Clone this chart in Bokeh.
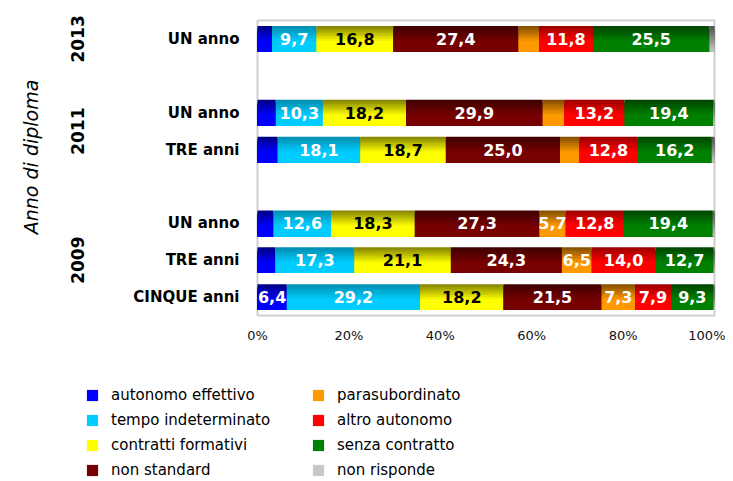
import math
from bokeh.plotting import figure
from bokeh.layouts import column
from bokeh.models import (ColumnDataSource, Range1d, FixedTicker,
                          PrintfTickFormatter, Legend, LegendItem)
from bokeh.core.properties import value
from bokeh.embed import file_html
from bokeh.resources import INLINE

# ---------------- data (rows listed top to bottom) ----------------
years = ["2013", "2011", "2011", "2009", "2009", "2009"]
durations = ["UN anno", "UN anno", "TRE anni", "UN anno", "TRE anni", "CINQUE anni"]
axis_title = "Anno di diploma"

series_names = ["autonomo effettivo", "tempo indeterminato", "contratti formativi",
                "non standard", "parasubordinato", "altro autonomo",
                "senza contratto", "non risponde"]

autonomo_effettivo = [3.2, 4.0, 4.4, 3.5, 3.9, 6.4]
tempo_indeterminato = [9.7, 10.3, 18.1, 12.6, 17.3, 29.2]
contratti_formativi = [16.8, 18.2, 18.7, 18.3, 21.1, 18.2]
non_standard = [27.4, 29.9, 25.0, 27.3, 24.3, 21.5]
parasubordinato = [4.5, 4.7, 4.2, 5.7, 6.5, 7.3]
altro_autonomo = [11.8, 13.2, 12.8, 12.8, 14.0, 7.9]
senza_contratto = [25.5, 19.4, 16.2, 19.4, 12.7, 9.3]
non_risponde = [1.1, 0.3, 0.6, 0.4, 0.2, 0.2]

x_ticks = [0, 20, 40, 60, 80, 100]

# ---------------- styles / layout constants ----------------
base_colors = ["#0000FF", "#00CCFF", "#FFFF00", "#770000",
               "#FF9900", "#FF0000", "#008000", "#C8C8C8"]
top_colors = ["#000080", "#008BAD", "#807F00", "#3D0000",
              "#7F4C00", "#990000", "#004400", "#505050"]
label_colors = ["white", "white", "black", "white",
                "white", "white", "white", "white"]
FONT = "DejaVu Sans"
GROUP_PAD = 1.0
W = 725
PLOT_LEFT_PX = 257      # pixel of 0 %
PLOT_RIGHT_PX = 714     # pixel of 100 %
BORDER_RIGHT = 9
TOP_PX = 20
BOTTOM_PX = 315
H1 = 345
H2 = 134
EDGE_PAD_PX = 2

all_series = [autonomo_effettivo, tempo_indeterminato, contratti_formativi,
              non_standard, parasubordinato, altro_autonomo, senza_contratto,
              non_risponde]
n_rows = len(years)

# row slots (bottom-up, one empty slot between year groups)
row_pos = [0.0] * n_rows
group_members = {}
pos = 0.0
prev = None
for r in reversed(range(n_rows)):
    g = years[r]
    if prev is not None and g != prev:
        pos += GROUP_PAD
    row_pos[r] = pos + 0.5
    group_members.setdefault(g, []).append(pos + 0.5)
    pos += 1.0
    prev = g
total_extent = pos
group_names = list(group_members.keys())
group_pos = [sum(c) / len(c) for c in group_members.values()]

# ranges: frame spans the whole width/top so side labels are drawn inside it
x0, x1 = x_ticks[0], x_ticks[-1]
px_per_x = (PLOT_RIGHT_PX - PLOT_LEFT_PX) / (x1 - x0)
frame_w = W - BORDER_RIGHT
x_start = x0 - PLOT_LEFT_PX / px_per_x
x_end = x_start + frame_w / px_per_x
px_per_y = (BOTTOM_PX - TOP_PX) / total_extent
y_start = -EDGE_PAD_PX / px_per_y
y_end = total_extent + TOP_PX / px_per_y

p = figure(width=W, height=H1, x_range=Range1d(x_start, x_end),
           y_range=Range1d(y_start, y_end),
           output_backend="svg", toolbar_location=None, y_axis_location=None,
           min_border_left=0, min_border_right=BORDER_RIGHT,
           min_border_top=0,
           min_border_bottom=H1 - BOTTOM_PX - EDGE_PAD_PX)
p.background_fill_color = "white"
p.border_fill_color = "white"
p.outline_line_color = None
p.xgrid.visible = False
p.ygrid.visible = False


def hex2rgb(h):
    h = h.lstrip("#")
    return tuple(int(h[i:i + 2], 16) for i in (0, 2, 4))


def mix(c1, c2, t):
    a, b = hex2rgb(c1), hex2rgb(c2)
    return "#%02x%02x%02x" % tuple(int(round(a[k] + (b[k] - a[k]) * t)) for k in range(3))


# plot-area border
p.quad(left=[x0], right=[x1], bottom=[0], top=[total_extent],
       fill_color=None, line_color="#CFCFCF", line_width=2)

# cumulative positions (normalised to 100 %)
totals = [sum(s[r] for s in all_series) for r in range(n_rows)]
lefts, rights = [], []
for r in range(n_rows):
    acc = 0.0
    lr, rr = [], []
    for s in all_series:
        v = s[r] / totals[r] * 100
        lr.append(acc)
        acc += v
        rr.append(acc)
    lefts.append(lr)
    rights.append(rr)

# gradient: each strip reaches from its top edge to the bar bottom,
# later strips paint over the lower part -> no seams
BAR_H = 0.7
N = 12
h = BAR_H / N
for i in range(N):
    top = BAR_H / 2 - i * h
    bottom = -BAR_H / 2
    t = (i + 0.5) / N
    ys, ls, rs, cs = [], [], [], []
    for si in range(len(all_series)):
        m = t if si == len(all_series) - 1 else min(1.0, t / 0.6)
        col = mix(top_colors[si], base_colors[si], m)
        for r in range(n_rows):
            ys.append(row_pos[r] + (top + bottom) / 2)
            ls.append(lefts[r][si])
            rs.append(rights[r][si])
            cs.append(col)
    src = ColumnDataSource(dict(y=ys, left=ls, right=rs, color=cs))
    p.hbar(y="y", left="left", right="right", height=top - bottom,
           fill_color="color", line_color=None, source=src)

# value labels
ty, tx, tt, tc = [], [], [], []
for si, s in enumerate(all_series[:-1]):
    for r in range(n_rows):
        if s[r] >= 5:
            ty.append(row_pos[r])
            tx.append((lefts[r][si] + rights[r][si]) / 2)
            tt.append(("%.1f" % s[r]).replace(".", ","))
            tc.append(label_colors[si])
lab_src = ColumnDataSource(dict(y=ty, x=tx, text=tt, color=tc))
p.text(x="x", y="y", text="text", text_color="color", source=lab_src,
       text_font=value(FONT), text_font_style="bold", text_font_size="16px",
       text_align="center", text_baseline="middle")

# category labels (left of the 0 % line)
cat_src = ColumnDataSource(dict(x=[x0] * n_rows, y=row_pos, text=durations))
p.text(x="x", y="y", text="text", source=cat_src, x_offset=-18,
       text_font=value(FONT), text_font_style="bold", text_font_size="15px",
       text_color="black", text_align="right", text_baseline="middle")

# year labels (rotated)
yr_src = ColumnDataSource(dict(x=[x0] * len(group_names), y=group_pos,
                               text=group_names))
p.text(x="x", y="y", text="text", source=yr_src, x_offset=-180,
       angle=math.pi / 2,
       text_font=value(FONT), text_font_style="bold", text_font_size="17px",
       text_color="black", text_align="center", text_baseline="middle")

# axis title (rotated, italic)
p.text(x=[x0], y=[total_extent / 2 + 0.3], text=[axis_title], x_offset=-227,
       angle=math.pi / 2,
       text_font=value(FONT), text_font_style="italic", text_font_size="19px",
       text_color="black", text_align="center", text_baseline="middle")

# x axis
xa = p.xaxis[0]
xa.ticker = FixedTicker(ticks=x_ticks)
xa.formatter = PrintfTickFormatter(format="%d%%")
xa.axis_line_color = None
xa.major_tick_line_color = None
xa.minor_tick_line_color = None
xa.major_tick_out = 0
xa.minor_tick_out = 0
xa.major_label_standoff = 10
xa.major_label_text_font = FONT
xa.major_label_text_font_size = "13px"
xa.major_label_text_color = "#111111"

# legend figure below (frame aligned with the main frame)
p2 = figure(width=W, height=H2, x_range=Range1d(0, 1), y_range=Range1d(0, 1),
            output_backend="svg", toolbar_location=None, min_border=0,
            min_border_left=0, min_border_right=BORDER_RIGHT,
            x_axis_location=None, y_axis_location=None)
p2.outline_line_color = None
p2.xgrid.visible = False
p2.ygrid.visible = False
p2.background_fill_color = "white"
p2.border_fill_color = "white"

proxy_src = ColumnDataSource(dict(name=series_names, color=base_colors,
                                  y=list(range(len(series_names))),
                                  v=[s[0] for s in all_series]))
proxy = p2.hbar(y="y", left=0, right="v", height=0.5, fill_color="color",
                line_color=None, source=proxy_src, visible=False)

items1 = [LegendItem(label=series_names[k], renderers=[proxy], index=k)
          for k in range(0, 4)]
items2 = [LegendItem(label=series_names[k], renderers=[proxy], index=k)
          for k in range(4, 8)]
for items, lx in ((items1, 85), (items2, 311)):
    lg = Legend(items=items, location=(lx, 0), orientation="vertical",
                padding=0, margin=0, spacing=7, glyph_width=14, glyph_height=14,
                label_standoff=12, label_height=16,
                label_text_font=FONT, label_text_font_size="15px",
                label_text_color="black", label_text_baseline="middle",
                border_line_color=None, background_fill_alpha=0)
    p2.add_layout(lg)

layout = column(p, p2, spacing=0)
open("out.html", "w").write(file_html(layout, INLINE))
